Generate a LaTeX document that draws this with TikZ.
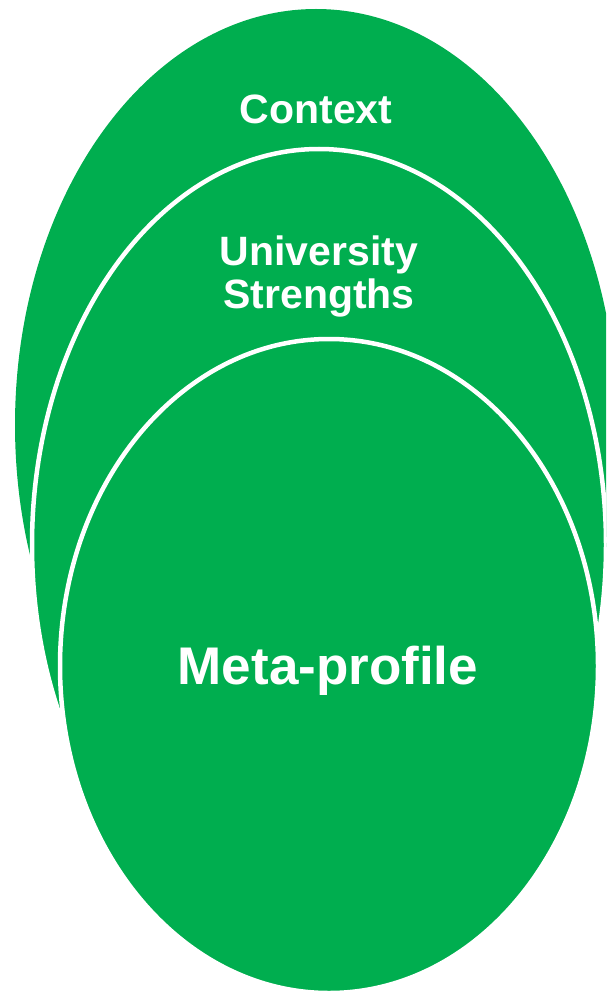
\documentclass[tikz,border=0pt]{standalone}
\usepackage{fontspec}
\setmainfont{Liberation Sans}
\definecolor{ringgreen}{HTML}{00AE4F}
\begin{document}
\begin{tikzpicture}[x=1pt,y=-1pt,
  ring/.style={fill=ringgreen,draw=white,line width=4.5pt},
  label/.style={text=white,font=\bfseries\fontsize{41}{43}\selectfont,inner sep=0pt,anchor=base,align=center},
  biglabel/.style={text=white,font=\bfseries\fontsize{53}{58}\selectfont,inner sep=0pt,anchor=base}]
\useasboundingbox (0,0) rectangle (606,992);
\clip (0,0) rectangle (606,992);
% outer ring: context
\path[ring,draw=none] (316,425) ellipse [x radius=301pt, y radius=416pt];
% middle ring: university strengths
\path[ring] (319,545) ellipse [x radius=287pt, y radius=396pt];
% inner ring: meta-profile
\path[ring] (329,666) ellipse [x radius=269pt, y radius=327pt];
\node[label] (context) at (316,124) {Context};
\node[label] (strengths) at (319,308) {University\\Strengths};
\node[biglabel] (meta) at (328,684) {Meta-profile};
\end{tikzpicture}
\end{document}
